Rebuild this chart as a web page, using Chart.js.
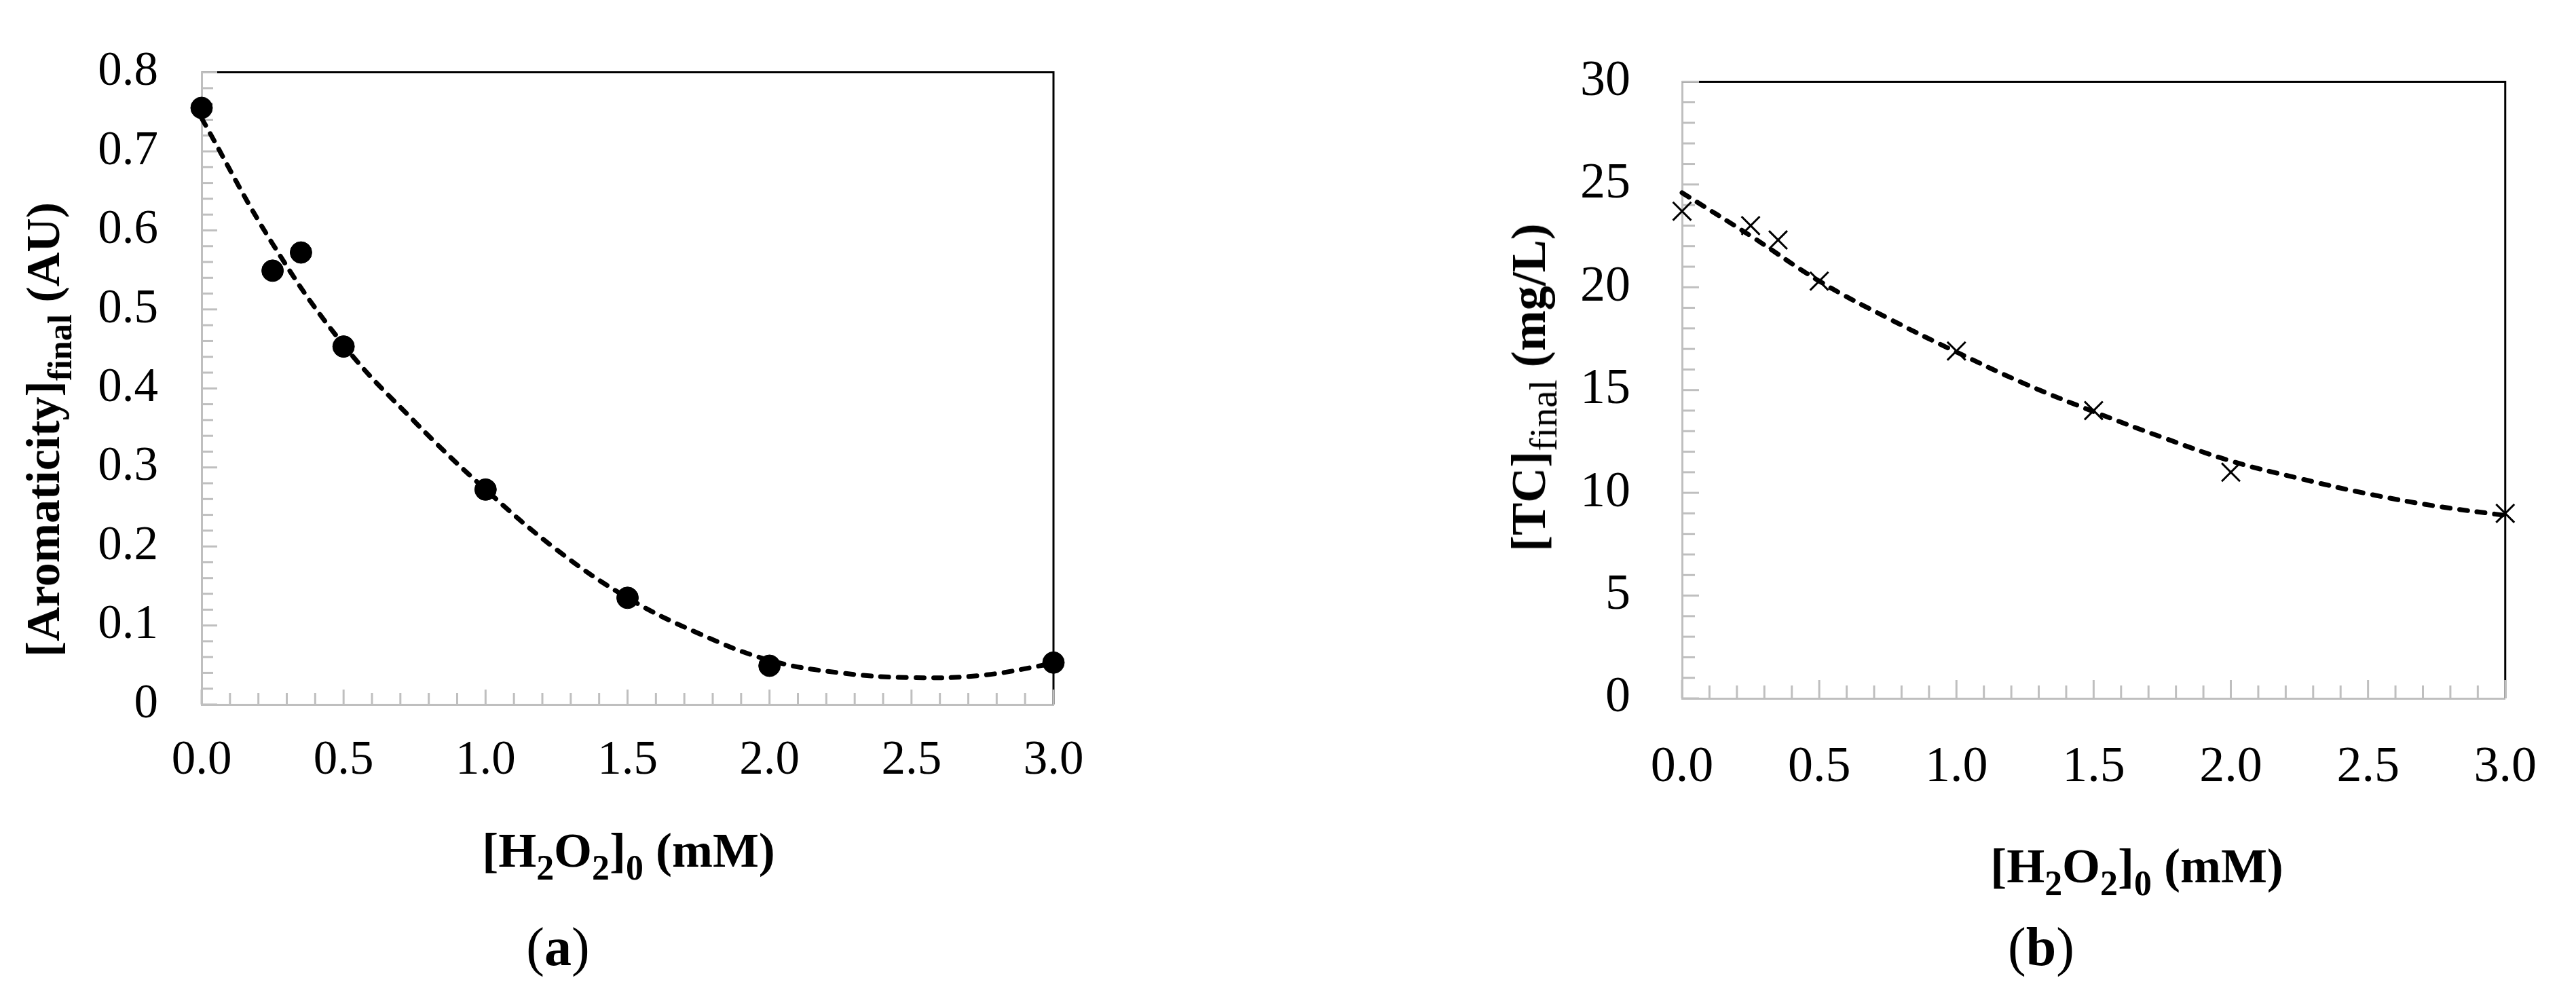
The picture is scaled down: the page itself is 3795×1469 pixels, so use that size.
<!DOCTYPE html>
<html lang="en">
<head>
<meta charset="UTF-8">
<title>Aromaticity and TC vs H2O2 dose</title>
<script src="https://cdn.jsdelivr.net/npm/chart.js"></script>
<style>
  html, body { margin: 0; padding: 0; background: #fff; }
  body {
    width: 3795px; height: 1469px; position: relative; overflow: hidden;
    font-family: 'Liberation Serif', 'Times New Roman', serif; color: #000;
  }
  canvas { position: absolute; top: 0; }
  .lbl {
    position: absolute; white-space: nowrap; line-height: 1; font-weight: bold;
    transform: translate(-50%, -50%);
  }
  .rot { transform: translate(-50%, -50%) rotate(-90deg); }
  .sub { font-size: 0.72em; position: relative; top: 0.36em; }
  .thin { font-weight: normal; }
</style>
</head>
<body>
<canvas id="chartA" width="1800" height="1200" style="left:0"></canvas>
<canvas id="chartB" width="1695" height="1200" style="left:2100px"></canvas>

<div class="lbl rot" style="left:64px;top:633px;font-size:70px">[Aromaticity]<span class="sub">final</span> (AU)</div>
<div class="lbl" style="left:926px;top:1253px;font-size:72px">[H<span class="sub">2</span>O<span class="sub">2</span>]<span class="sub">0</span> (mM)</div>
<div class="lbl" style="left:822px;top:1395px;font-size:80px"><span class="thin">(</span>a<span class="thin">)</span></div>

<div class="lbl rot" style="left:2252px;top:571px;font-size:72px">[TC]<span class="sub thin" style="font-size:0.8em;top:0.3em">final</span> (mg/L)</div>
<div class="lbl" style="left:3148px;top:1276px;font-size:72px">[H<span class="sub">2</span>O<span class="sub">2</span>]<span class="sub">0</span> (mM)</div>
<div class="lbl" style="left:3007px;top:1395px;font-size:80px"><span class="thin">(</span>b<span class="thin">)</span></div>

<script>
// measured points
const h2o2Dose = [0, 0.25, 0.35, 0.5, 1.0, 1.5, 2.0, 3.0];
const aromaticity = [0.755, 0.549, 0.572, 0.453, 0.272, 0.135, 0.049, 0.053];
const totalCarbon = [23.7, 23.0, 22.3, 20.3, 16.9, 14.0, 11.0, 9.0];

// dashed trend lines
const trendDose = [0, 0.25, 0.5, 0.75, 1.0, 1.25, 1.5, 1.75, 2.0, 2.25, 2.5, 2.75, 3.0];
const aromaticityTrend = [0.742, 0.583, 0.455, 0.358, 0.272, 0.196, 0.135, 0.090, 0.056, 0.040, 0.034, 0.037, 0.052];
const totalCarbonTrend = [24.6, 22.5, 20.3, 18.5, 16.85, 15.3, 13.95, 12.7, 11.55, 10.7, 9.95, 9.35, 8.9];

// tick labels
const doseTicks = ['0.0', '0.5', '1.0', '1.5', '2.0', '2.5', '3.0'];
const aromaticityTicks = ['0', '0.1', '0.2', '0.3', '0.4', '0.5', '0.6', '0.7', '0.8'];
const carbonTicks = ['0', '5', '10', '15', '20', '25', '30'];

const GREY = '#BFBFBF';
Chart.defaults.font.family = "'Liberation Serif', 'Times New Roman', serif";
Chart.defaults.color = '#000';

// black top/right frame plus the little grey inside ticks (Excel style)
const excelFrame = {
  id: 'excelFrame',
  beforeDatasetsDraw(chart, args, o) {
    const { ctx, chartArea: a } = chart;
    const xs = chart.scales.x, ys = chart.scales.y;
    ctx.save();
    ctx.lineWidth = 3;
    ctx.strokeStyle = '#000';
    ctx.beginPath();
    ctx.moveTo(a.left, a.top);
    ctx.lineTo(a.right, a.top);
    ctx.lineTo(a.right, a.bottom);
    ctx.stroke();

    ctx.strokeStyle = GREY;
    for (let i = 0; i <= o.xSteps; i++) {
      const px = xs.getPixelForValue(xs.min + (xs.max - xs.min) * i / o.xSteps);
      const len = i % o.every === 0 ? o.xMajor : o.xMinor;
      ctx.beginPath();
      ctx.moveTo(px, a.bottom);
      ctx.lineTo(px, a.bottom - len);
      ctx.stroke();
    }
    for (let i = 0; i <= o.ySteps; i++) {
      const py = ys.getPixelForValue(ys.min + (ys.max - ys.min) * i / o.ySteps);
      const len = i % o.every === 0 ? o.yMajor : o.yMinor;
      ctx.beginPath();
      ctx.moveTo(a.left, py);
      ctx.lineTo(a.left + len, py);
      ctx.stroke();
    }
    ctx.restore();
  }
};

function makeChart(id, s) {
  return new Chart(document.getElementById(id), {
    type: 'scatter',
    data: {
      datasets: [
        {
          data: h2o2Dose.map((x, i) => ({ x, y: s.points[i] })),
          pointStyle: s.marker,
          pointRadius: s.radius,
          pointBackgroundColor: '#000',
          pointBorderColor: '#000',
          pointBorderWidth: s.markerWidth,
          showLine: false,
          clip: false,
          order: 0
        },
        {
          type: 'line',
          data: trendDose.map((x, i) => ({ x, y: s.trend[i] })),
          borderColor: '#000',
          borderWidth: 7,
          borderDash: [12, 14],
          borderCapStyle: 'round',
          tension: 0.4,
          pointRadius: 0,
          fill: false,
          clip: false,
          order: 1
        }
      ]
    },
    options: {
      responsive: false,
      animation: false,
      layout: { padding: s.pad },
      plugins: {
        legend: { display: false },
        tooltip: { enabled: false },
        excelFrame: s.frame
      },
      scales: {
        x: {
          type: 'linear', min: 0, max: 3,
          grid: { display: false, drawTicks: false },
          border: { color: GREY, width: 3 },
          ticks: {
            stepSize: 0.5, padding: s.xPad,
            font: { size: s.font },
            callback: (v, i) => doseTicks[i]
          },
          afterFit: sc => { sc.height = s.xHeight; }
        },
        y: {
          type: 'linear', min: 0, max: s.yMax,
          grid: { display: false, drawTicks: false },
          border: { color: GREY, width: 3 },
          ticks: {
            stepSize: s.yStep, padding: s.yPad,
            font: { size: s.font },
            callback: (v, i) => s.yLabels[i]
          },
          afterFit: sc => { sc.width = s.yWidth; }
        }
      }
    },
    plugins: [excelFrame]
  });
}

makeChart('chartA', {
  points: aromaticity, trend: aromaticityTrend,
  marker: 'circle', radius: 16, markerWidth: 1,
  yMax: 0.8, yStep: 0.1, yLabels: aromaticityTicks,
  font: 71, xPad: 41, yPad: 64,
  yWidth: 297, xHeight: 162,
  pad: { top: 62, right: 248, left: 0, bottom: 0 },
  frame: { xSteps: 30, ySteps: 40, every: 5, xMajor: 22, xMinor: 17, yMajor: 23, yMinor: 17 }
});

makeChart('chartB', {
  points: totalCarbon, trend: totalCarbonTrend,
  marker: 'crossRot', radius: 19, markerWidth: 3,
  yMax: 30, yStep: 5, yLabels: carbonTicks,
  font: 74, xPad: 58, yPad: 76,
  yWidth: 378, xHeight: 171,
  pad: { top: 66, right: 70, left: 0, bottom: 0 },
  frame: { xSteps: 30, ySteps: 30, every: 5, xMajor: 27, xMinor: 19, yMajor: 25, yMinor: 19 }
});
</script>
</body>
</html>
